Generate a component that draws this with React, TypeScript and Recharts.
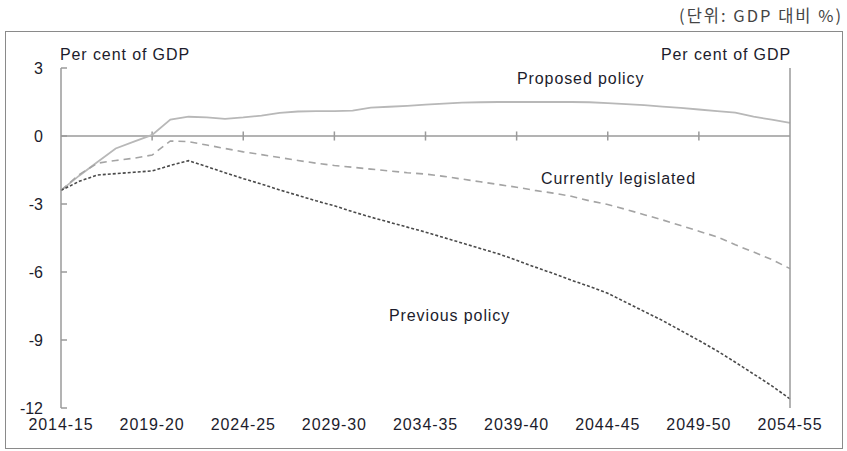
import { LineChart, Line, XAxis, YAxis, ReferenceLine } from 'recharts'

const YEARS = [
  '2014-15', '2015-16', '2016-17', '2017-18', '2018-19', '2019-20', '2020-21', '2021-22',
  '2022-23', '2023-24', '2024-25', '2025-26', '2026-27', '2027-28', '2028-29', '2029-30',
  '2030-31', '2031-32', '2032-33', '2033-34', '2034-35', '2035-36', '2036-37', '2037-38',
  '2038-39', '2039-40', '2040-41', '2041-42', '2042-43', '2043-44', '2044-45', '2045-46',
  '2046-47', '2047-48', '2048-49', '2049-50', '2050-51', '2051-52', '2052-53', '2053-54',
  '2054-55',
]

const PROPOSED = [
  -2.4, -1.75, -1.15, -0.55, -0.25, 0.05, 0.72, 0.85, 0.82, 0.76, 0.82, 0.9, 1.02, 1.08,
  1.1, 1.1, 1.12, 1.25, 1.29, 1.33, 1.38, 1.43, 1.47, 1.49, 1.5, 1.5, 1.5, 1.5, 1.5, 1.49,
  1.45, 1.41, 1.36, 1.3, 1.24, 1.17, 1.1, 1.03, 0.85, 0.72, 0.58,
]

const CURRENT = [
  -2.4, -1.7, -1.2, -1.08, -0.98, -0.84, -0.22, -0.25, -0.4, -0.55, -0.7, -0.82, -0.95,
  -1.08, -1.2, -1.3, -1.38, -1.46, -1.54, -1.62, -1.68, -1.78, -1.9, -2.02, -2.14, -2.26,
  -2.4, -2.52, -2.66, -2.86, -3.02, -3.24, -3.47, -3.7, -3.95, -4.2, -4.45, -4.8, -5.12,
  -5.45, -5.85,
]

const PREVIOUS = [
  -2.4, -2.0, -1.72, -1.66, -1.6, -1.54, -1.3, -1.09, -1.35, -1.62, -1.88, -2.12, -2.38,
  -2.62, -2.86, -3.08, -3.34, -3.58, -3.8, -4.02, -4.24, -4.48, -4.72, -4.96, -5.2, -5.48,
  -5.78, -6.06, -6.36, -6.64, -6.94, -7.34, -7.74, -8.14, -8.58, -9.02, -9.48, -9.98,
  -10.5, -11.02, -11.6,
]

const Y_TICKS = [3, 0, -3, -6, -9, -12]
// inner x ticks drawn across the zero line
const ZERO_TICKS = ['2019-20', '2024-25', '2029-30', '2034-35', '2039-40', '2044-45', '2049-50']

const AXIS = '#9a9a9a'
const TEXT = '#1c1c2c'
const FONT = '"Liberation Sans", Arial, sans-serif'

const data = YEARS.map((year, i) => ({
  year,
  proposed: PROPOSED[i],
  current: CURRENT[i],
  previous: PREVIOUS[i],
}))

function LeftTick({ x, y, payload }: any) {
  return (
    <g>
      <line x1={x} x2={x + 6} y1={y} y2={y} stroke={AXIS} strokeWidth={1.5} />
      <text x={x - 18} y={y} dy="0.36em" textAnchor="end" fontSize={16} fill={TEXT} fontFamily={FONT}>
        {payload.value}
      </text>
    </g>
  )
}

function RightTick({ x, y, payload }: any) {
  return (
    <g>
      <line x1={x - 6} x2={x} y1={y} y2={y} stroke={AXIS} strokeWidth={1.5} />
      <text x={x + 13} y={y} dy="0.36em" textAnchor="start" fontSize={16} fill={TEXT} fontFamily={FONT}>
        {payload.value}
      </text>
    </g>
  )
}

const textStyle = {
  position: 'absolute' as const,
  fontFamily: FONT,
  fontSize: 16,
  letterSpacing: 0.9,
  color: TEXT,
  whiteSpace: 'nowrap' as const,
  lineHeight: '18px',
}

const label = (left: number, top: number, text: string) => (
  <div style={{ ...textStyle, left, top }}>{text}</div>
)

export default function App() {
  return (
    <div style={{ position: 'absolute', left: 0, top: 0, width: 847, height: 451, background: '#fff' }}>
      <div
        style={{
          position: 'absolute',
          right: 4,
          top: 5,
          fontFamily: '"Noto Sans CJK KR", sans-serif',
          fontSize: 16.5,
          letterSpacing: 2,
          color: '#444',
          lineHeight: '20px',
        }}
      >
        (단위: GDP 대비 %)
      </div>
      <div
        style={{
          position: 'absolute',
          left: 5,
          top: 31,
          width: 838,
          height: 418,
          border: '1.5px solid #8a8a8a',
          boxSizing: 'border-box',
        }}
      />
      <div style={{ position: 'absolute', left: 0, top: 0 }}>
        <LineChart width={847} height={451} data={data} margin={{ top: 68, right: 7, bottom: 23, left: 6 }}>
          <XAxis
            dataKey="year"
            interval={4}
            height={20}
            axisLine={false}
            tickLine={false}
            tickSize={0}
            tickMargin={11}
            tick={{ fontSize: 16, fill: TEXT, fontFamily: FONT, letterSpacing: 0.9 }}
          />
          <YAxis
            yAxisId="left"
            orientation="left"
            width={55}
            domain={[-12, 3]}
            ticks={Y_TICKS}
            interval={0}
            tickSize={0}
            tickMargin={0}
            tickLine={false}
            axisLine={{ stroke: AXIS, strokeWidth: 1.5 }}
            tick={<LeftTick />}
          />
          <YAxis
            yAxisId="right"
            orientation="right"
            width={50}
            domain={[-12, 3]}
            ticks={Y_TICKS}
            interval={0}
            tickSize={0}
            tickMargin={0}
            tickLine={false}
            axisLine={{ stroke: AXIS, strokeWidth: 1.5 }}
            tick={<RightTick />}
          />
          <ReferenceLine yAxisId="left" y={0} stroke={AXIS} strokeWidth={1.5} />
          {ZERO_TICKS.map(t => (
            <ReferenceLine
              key={t}
              yAxisId="left"
              segment={[{ x: t, y: -0.2 }, { x: t, y: 0.2 }]}
              stroke={AXIS}
              strokeWidth={1.5}
            />
          ))}
          <Line
            yAxisId="left"
            dataKey="proposed"
            stroke="#b8b8b8"
            strokeWidth={1.8}
            dot={false}
            isAnimationActive={false}
          />
          <Line
            yAxisId="left"
            dataKey="current"
            stroke="#a4a4a4"
            strokeWidth={1.6}
            strokeDasharray="7 5"
            dot={false}
            isAnimationActive={false}
          />
          <Line
            yAxisId="left"
            dataKey="previous"
            stroke="#4a4a4a"
            strokeWidth={1.6}
            strokeDasharray="3 2"
            dot={false}
            isAnimationActive={false}
          />
        </LineChart>
      </div>
      {label(60, 46, 'Per cent of GDP')}
      <div style={{ ...textStyle, right: 847 - 791, top: 46 }}>Per cent of GDP</div>
      {label(517, 70, 'Proposed policy')}
      {label(541, 170, 'Currently legislated')}
      {label(389, 307, 'Previous policy')}
    </div>
  )
}
